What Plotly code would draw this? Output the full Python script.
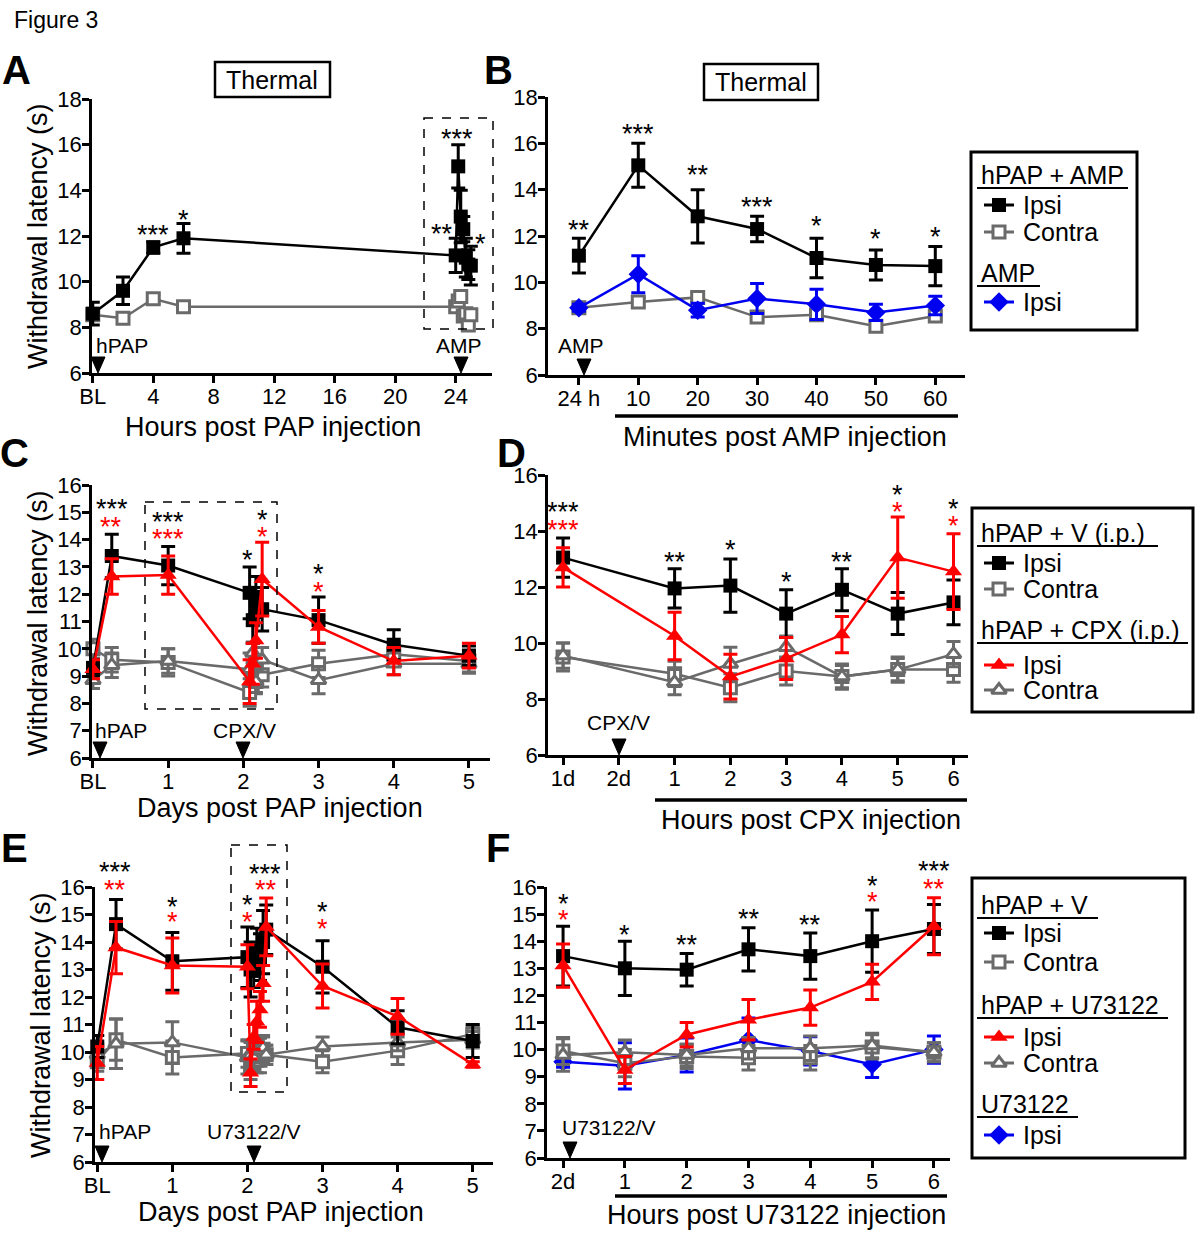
import plotly.graph_objects as go

W, H = 1200, 1233
FONT = "Liberation Sans, Arial, Helvetica, sans-serif"
BLACK, GRAY, RED, BLUE = "#000000", "#6a6a6a", "#ff0000", "#0000f0"

# ---------------- Panel A: hours post PAP ----------------
A_hours = [0, 2, 4, 6]
A_tickvals = [0, 4, 8, 12, 16, 20, 24]
A_ticktext = ["BL", "4", "8", "12", "16", "20", "24"]
A_ipsi = [8.6, 9.6, 11.5, 11.9]
A_ipsi_err = [0.5, 0.6, 0.25, 0.65]
A_contra = [8.55, 8.4, 9.25, 8.9]
A_contra_err = [0.15, 0.15, 0.2, 0.15]

# ---------------- Panel B: minutes post AMP (also the 24 h cluster of A) ----------------
B_labels = ["24 h", "10", "20", "30", "40", "50", "60"]
B_minutes = [0, 10, 20, 30, 40, 50, 60]
B_ipsi = [11.15, 15.05, 12.85, 12.3, 11.05, 10.75, 10.7]
B_ipsi_err = [0.75, 0.95, 1.15, 0.55, 0.85, 0.65, 0.85]
B_contra = [8.9, 9.15, 9.35, 8.5, 8.6, 8.1, 8.55]
B_contra_err = [0.2, 0.2, 0.2, 0.2, 0.2, 0.2, 0.2]
B_amp = [8.9, 10.35, 8.8, 9.3, 9.05, 8.7, 9.0]
B_amp_err = [0.15, 0.8, 0.3, 0.65, 0.65, 0.35, 0.4]

# ---------------- Panel D: hours post CPX ----------------
D_labels = ["1d", "2d", "1", "2", "3", "4", "5", "6"]
D_time = ["1d", "1", "2", "3", "4", "5", "6"]
D_v_ipsi = [13.05, 11.95, 12.05, 11.05, 11.9, 11.05, 11.45]
D_v_ipsi_err = [0.7, 0.7, 0.95, 0.85, 0.75, 0.75, 0.8]
D_cpx_ipsi = [12.7, 10.25, 8.8, 9.45, 10.3, 13.05, 12.55]
D_cpx_ipsi_err = [0.7, 0.85, 0.8, 0.75, 0.65, 1.45, 1.35]
D_v_contra = [9.5, 8.9, 8.4, 9.0, 8.8, 9.05, 9.05]
D_v_contra_err = [0.5, 0.45, 0.5, 0.5, 0.45, 0.45, 0.45]
D_cpx_contra = [9.55, 8.6, 9.25, 9.85, 8.8, 9.05, 9.6]
D_cpx_contra_err = [0.45, 0.45, 0.6, 0.4, 0.4, 0.4, 0.45]

# ---------------- Panel C: days post PAP ----------------
C_tickvals = [0, 1, 2, 3, 4, 5]
C_ticktext = ["BL", "1", "2", "3", "4", "5"]
C_days_pre = [0, 0.25]
C_days_post = [3, 4, 5]
C_cluster_hours = ["2", "3", "4", "6"]   # hours after CPX/V on day 2 (from panel D)
C_v_ipsi_pre = [9.3, 13.4]
C_v_ipsi_pre_err = [0.3, 0.8]
C_v_ipsi_post = [11.05, 10.15, 9.75]
C_v_ipsi_post_err = [0.85, 0.55, 0.35]
C_cpx_ipsi_pre = [9.25, 12.65]
C_cpx_ipsi_pre_err = [0.35, 0.65]
C_cpx_ipsi_post = [10.8, 9.55, 9.75]
C_cpx_ipsi_post_err = [0.6, 0.5, 0.45]
C_v_contra_pre = [10.0, 9.6]
C_v_contra_pre_err = [0.35, 0.45]
C_v_contra_post = [9.45, 9.8, 9.55]
C_v_contra_post_err = [0.5, 0.45, 0.4]
C_cpx_contra_pre = [8.85, 9.4]
C_cpx_contra_pre_err = [0.3, 0.45]
C_cpx_contra_post = [8.85, 9.45, 9.45]
C_cpx_contra_post_err = [0.5, 0.4, 0.35]

# ---------------- Panel F: hours post U73122 ----------------
F_labels = ["2d", "1", "2", "3", "4", "5", "6"]
F_hours = [0, 1, 2, 3, 4, 5, 6]
F_v_ipsi = [13.45, 13.0, 12.95, 13.7, 13.45, 14.0, 14.45]
F_v_ipsi_err = [1.1, 1.0, 0.6, 0.8, 0.85, 1.15, 0.9]
F_u_ipsi = [13.1, 9.25, 10.55, 11.1, 11.55, 12.5, 14.55]
F_u_ipsi_err = [0.8, 0.5, 0.45, 0.75, 0.65, 0.65, 1.05]
F_v_contra = [9.95, 9.5, 9.75, 9.7, 9.7, 10.1, 9.9]
F_v_contra_err = [0.5, 0.5, 0.45, 0.45, 0.45, 0.45, 0.35]
F_u_contra = [9.8, 9.9, 9.8, 10.05, 10.05, 10.15, 9.9]
F_u_contra_err = [0.6, 0.45, 0.4, 0.4, 0.45, 0.45, 0.35]
F_u_only = [9.55, 9.4, 9.8, 10.35, 9.95, 9.45, 10.0]
F_u_only_err = [0.2, 0.85, 0.63, 0.82, 0.52, 0.48, 0.5]

# ---------------- Panel E: days post PAP ----------------
E_days_pre = [0, 0.25, 1]
E_days_post = [3, 4, 5]
E_v_ipsi_pre = [10.2, 14.65, 13.3]
E_v_ipsi_pre_err = [0.4, 0.9, 1.05]
E_v_ipsi_post = [13.1, 10.9, 10.4]
E_v_ipsi_post_err = [0.95, 0.6, 0.6]
E_u_ipsi_pre = [9.6, 13.8, 13.15]
E_u_ipsi_pre_err = [0.6, 0.95, 1.0]
E_u_ipsi_post = [12.4, 11.3, 9.55]
E_u_ipsi_post_err = [0.8, 0.65, 0.1]
E_v_contra_pre = [9.65, 10.45, 9.8]
E_v_contra_pre_err = [0.35, 0.75, 0.6]
E_v_contra_post = [9.65, 10.05, 10.65]
E_v_contra_post_err = [0.4, 0.5, 0.3]
E_u_contra_pre = [9.9, 10.3, 10.35]
E_u_contra_pre_err = [0.4, 0.9, 0.75]
E_u_contra_post = [10.2, 10.35, 10.45]
E_u_contra_post_err = [0.35, 0.3, 0.3]

# significance stars: (x, y, text, colour)
A_stars = [(4, 12.35, "***", BLACK), (6, 13.0, "*", BLACK), (24.07, 16.55, "***", BLACK),
           (23.07, 12.4, "**", BLACK), (25.66, 11.95, "*", BLACK)]
B_stars = [(0, 12.56, "**", BLACK), (1, 16.7, "***", BLACK), (2, 14.93, "**", BLACK),
           (3, 13.55, "***", BLACK), (4, 12.73, "*", BLACK), (5, 12.18, "*", BLACK), (6, 12.26, "*", BLACK)]
C_stars = [(0.25, 15.38, "***", BLACK), (0.24, 14.72, "**", RED), (1, 14.9, "***", BLACK),
           (1, 14.28, "***", RED), (2.05, 13.5, "*", BLACK), (2.26, 14.97, "*", BLACK),
           (2.26, 14.35, "*", RED), (3, 13.0, "*", BLACK), (3, 12.34, "*", RED)]
D_stars = [(0, 14.93, "***", BLACK), (0, 14.29, "***", RED), (2, 13.14, "**", BLACK),
           (3, 13.57, "*", BLACK), (4, 12.43, "*", BLACK), (5, 13.14, "**", BLACK),
           (6, 15.53, "*", BLACK), (6, 14.93, "*", RED), (7, 15.04, "*", BLACK), (7, 14.43, "*", RED)]
E_stars = [(0.24, 16.8, "***", BLACK), (0.24, 16.15, "**", RED), (1, 15.53, "*", BLACK),
           (1, 14.98, "*", RED), (2.0, 15.6, "*", BLACK), (2.0, 15.0, "*", RED),
           (2.23, 16.73, "***", BLACK), (2.25, 16.15, "**", RED), (3, 15.35, "*", BLACK), (3, 14.73, "*", RED)]
F_stars = [(0, 15.63, "*", BLACK), (0, 15.04, "*", RED), (1, 14.49, "*", BLACK), (2, 14.12, "**", BLACK),
           (3, 15.08, "**", BLACK), (4, 14.86, "**", BLACK), (5, 16.3, "*", BLACK), (5, 15.7, "*", RED),
           (6, 16.85, "***", BLACK), (6, 16.18, "**", RED)]

STYLE = {
    "sq": dict(color=BLACK, symbol="square", fill=BLACK, size=14),
    "sq_open": dict(color=GRAY, symbol="square", fill="white", size=12),
    "tri": dict(color=RED, symbol="triangle-up", fill=RED, size=15),
    "tri_open": dict(color=GRAY, symbol="triangle-up", fill="white", size=13),
    "dia": dict(color=BLUE, symbol="diamond", fill=BLUE, size=15),
}

fig = go.Figure()


def add_series(x, y, err, style, ax):
    s = STYLE[style]
    open_ = s["fill"] == "white"
    fig.add_trace(go.Scatter(
        x=x, y=y, mode="lines+markers", xaxis="x" + ax, yaxis="y" + ax,
        line=dict(color=s["color"], width=2.5),
        marker=dict(symbol=s["symbol"], size=s["size"], color=s["fill"],
                    line=dict(color=s["color"], width=3 if open_ else 0)),
        error_y=dict(type="data", array=err, visible=True, color=s["color"], thickness=3, width=7),
        cliponaxis=False, showlegend=False, hoverinfo="skip"))


# ---- Panel A ----
A_clx = A_hours + [24 + m / 60 for m in B_minutes]
add_series(A_clx, A_contra + B_contra, A_contra_err + B_contra_err, "sq_open", "")
add_series(A_clx, A_ipsi + B_ipsi, A_ipsi_err + B_ipsi_err, "sq", "")

# ---- Panel B ----
Bx = list(range(len(B_labels)))
add_series(Bx, B_contra, B_contra_err, "sq_open", "2")
add_series(Bx, B_amp, B_amp_err, "dia", "2")
add_series(Bx, B_ipsi, B_ipsi_err, "sq", "2")

# ---- Panel C (day-2 cluster taken from panel D hours) ----
idx1d = D_time.index("1d")
cl_idx = [D_time.index(h) for h in C_cluster_hours]
Cx = C_days_pre + [1] + [2 + int(h) / 24 for h in C_cluster_hours] + C_days_post


def c_build(pre, pre_e, d, d_e, post, post_e):
    y = pre + [d[idx1d]] + [d[i] for i in cl_idx] + post
    e = pre_e + [d_e[idx1d]] + [d_e[i] for i in cl_idx] + post_e
    return y, e


y, e = c_build(C_v_contra_pre, C_v_contra_pre_err, D_v_contra, D_v_contra_err, C_v_contra_post, C_v_contra_post_err)
add_series(Cx, y, e, "sq_open", "3")
y, e = c_build(C_cpx_contra_pre, C_cpx_contra_pre_err, D_cpx_contra, D_cpx_contra_err, C_cpx_contra_post, C_cpx_contra_post_err)
add_series(Cx, y, e, "tri_open", "3")
y, e = c_build(C_v_ipsi_pre, C_v_ipsi_pre_err, D_v_ipsi, D_v_ipsi_err, C_v_ipsi_post, C_v_ipsi_post_err)
add_series(Cx, y, e, "sq", "3")
y, e = c_build(C_cpx_ipsi_pre, C_cpx_ipsi_pre_err, D_cpx_ipsi, D_cpx_ipsi_err, C_cpx_ipsi_post, C_cpx_ipsi_post_err)
add_series(Cx, y, e, "tri", "3")

# ---- Panel D ----
Dx = [D_labels.index(t) for t in D_time]
add_series(Dx, D_v_contra, D_v_contra_err, "sq_open", "4")
add_series(Dx, D_cpx_contra, D_cpx_contra_err, "tri_open", "4")
add_series(Dx, D_v_ipsi, D_v_ipsi_err, "sq", "4")
add_series(Dx, D_cpx_ipsi, D_cpx_ipsi_err, "tri", "4")

# ---- Panel E (day-2 cluster taken from panel F) ----
Ex = E_days_pre + [2 + h / 24 for h in F_hours] + E_days_post
add_series(Ex, E_v_contra_pre + F_v_contra + E_v_contra_post,
           E_v_contra_pre_err + F_v_contra_err + E_v_contra_post_err, "sq_open", "5")
add_series(Ex, E_u_contra_pre + F_u_contra + E_u_contra_post,
           E_u_contra_pre_err + F_u_contra_err + E_u_contra_post_err, "tri_open", "5")
add_series(Ex, E_v_ipsi_pre + F_v_ipsi + E_v_ipsi_post,
           E_v_ipsi_pre_err + F_v_ipsi_err + E_v_ipsi_post_err, "sq", "5")
add_series(Ex, E_u_ipsi_pre + F_u_ipsi + E_u_ipsi_post,
           E_u_ipsi_pre_err + F_u_ipsi_err + E_u_ipsi_post_err, "tri", "5")

# ---- Panel F ----
Fx = list(range(len(F_labels)))
add_series(Fx, F_u_only, F_u_only_err, "dia", "6")
add_series(Fx, F_v_contra, F_v_contra_err, "sq_open", "6")
add_series(Fx, F_u_contra, F_u_contra_err, "tri_open", "6")
add_series(Fx, F_v_ipsi, F_v_ipsi_err, "sq", "6")
add_series(Fx, F_u_ipsi, F_u_ipsi_err, "tri", "6")


# ---------------- axes ----------------
def xd(a, b):
    return [a / W, b / W]


def yd(top, bottom):
    return [1 - bottom / H, 1 - top / H]


def ax_common(is_x):
    return dict(showline=True, linecolor=BLACK, linewidth=2.5, ticks="outside", ticklen=7,
                tickwidth=2.5, tickcolor=BLACK, showgrid=False, zeroline=False, fixedrange=True,
                ticklabelstandoff=-5 if is_x else -4,
                tickfont=dict(family=FONT, size=22, color=BLACK))


layout = dict(width=W, height=H, autosize=False,
              margin=dict(l=0, r=0, t=0, b=0, pad=0, autoexpand=False),
              paper_bgcolor="white", plot_bgcolor="rgba(0,0,0,0)", showlegend=False,
              font=dict(family=FONT, color=BLACK))

YR = {"": [6, 18], "2": [6, 18], "3": [6, 16], "4": [6, 16], "5": [6, 16], "6": [6, 16]}

layout["xaxis"] = dict(ax_common(True), domain=xd(92, 492), range=[-0.05, 26.4], anchor="y",
                       tickvals=A_tickvals, ticktext=A_ticktext)
layout["yaxis"] = dict(ax_common(False), domain=yd(99, 373), range=YR[""], anchor="x",
                       tickvals=[6, 8, 10, 12, 14, 16, 18])
layout["xaxis2"] = dict(ax_common(True), domain=xd(548, 965), range=[-0.52, 6.5], anchor="y2",
                        tickvals=Bx, ticktext=B_labels)
layout["yaxis2"] = dict(ax_common(False), domain=yd(97, 375), range=YR["2"], anchor="x2",
                        tickvals=[6, 8, 10, 12, 14, 16, 18])
layout["xaxis3"] = dict(ax_common(True), domain=xd(92, 490), range=[-0.013, 5.28], anchor="y3",
                        tickvals=C_tickvals, ticktext=C_ticktext)
layout["yaxis3"] = dict(ax_common(False), domain=yd(485, 758), range=YR["3"], anchor="x3",
                        tickvals=list(range(6, 17)))
layout["xaxis4"] = dict(ax_common(True), domain=xd(548, 968), range=[-0.27, 7.26], anchor="y4",
                        tickvals=list(range(len(D_labels))), ticktext=D_labels)
layout["yaxis4"] = dict(ax_common(False), domain=yd(475, 755), range=YR["4"], anchor="x4",
                        tickvals=[6, 8, 10, 12, 14, 16])
layout["xaxis5"] = dict(ax_common(True), domain=xd(95, 493), range=[-0.03, 5.27], anchor="y5",
                        tickvals=C_tickvals, ticktext=C_ticktext)
layout["yaxis5"] = dict(ax_common(False), domain=yd(887, 1162), range=YR["5"], anchor="x5",
                        tickvals=list(range(6, 17)))
layout["xaxis6"] = dict(ax_common(True), domain=xd(547, 950), range=[-0.26, 6.26], anchor="y6",
                        tickvals=Fx, ticktext=F_labels)
layout["yaxis6"] = dict(ax_common(False), domain=yd(887, 1158), range=YR["6"], anchor="x6",
                        tickvals=list(range(6, 17)))
# full-page pixel overlay for decorations / legend samples
layout["xaxis7"] = dict(domain=[0, 1], range=[0, W], visible=False, fixedrange=True, anchor="y7")
layout["yaxis7"] = dict(domain=[0, 1], range=[H, 0], visible=False, fixedrange=True, anchor="x7")

annotations = []
shapes = []

# stars (y given in data units, placed via the axis domain so that values above the range still show)
for stars, ax in [(A_stars, ""), (B_stars, "2"), (C_stars, "3"), (D_stars, "4"), (E_stars, "5"), (F_stars, "6")]:
    lo, hi = YR[ax]
    for (sx, sy, txt_, col) in stars:
        annotations.append(dict(x=sx, y=(sy - lo) / (hi - lo), xref="x" + ax, yref="y" + ax + " domain",
                                text=txt_, showarrow=False, xanchor="center", yanchor="middle", yshift=-7,
                                font=dict(family=FONT, size=27, color=col)))


def txt(x, y, t, size, xanchor="center", angle=0, bold=False):
    annotations.append(dict(x=x, y=y, xref="x7", yref="y7", text=("<b>%s</b>" % t) if bold else t,
                            showarrow=False, xanchor=xanchor, yanchor="middle", textangle=angle,
                            font=dict(family=FONT, size=size, color=BLACK)))


def rect(x0, y0, x1, y1, width=2.5, dash="solid"):
    shapes.append(dict(type="rect", xref="x7", yref="y7", x0=x0, y0=y0, x1=x1, y1=y1,
                       line=dict(color=BLACK, width=width, dash=dash), fillcolor="rgba(0,0,0,0)"))


def hline(x0, x1, y, width=2):
    shapes.append(dict(type="line", xref="x7", yref="y7", x0=x0, x1=x1, y0=y, y1=y,
                       line=dict(color=BLACK, width=width)))


def tri(x, tip, w=14, h=16):
    shapes.append(dict(type="path", xref="x7", yref="y7",
                       path="M %s,%s L %s,%s L %s,%s Z" % (x - w / 2, tip - h, x + w / 2, tip - h, x, tip),
                       fillcolor=BLACK, line=dict(color=BLACK, width=1)))


txt(12, 20, "Figure 3", 23, xanchor="left")
for L, x, y in [("A", 16, 70), ("B", 498, 70), ("C", 14, 453), ("D", 511, 453), ("E", 14, 848), ("F", 498, 848)]:
    txt(x, y, L, 40, bold=True)

rect(215, 62, 330, 97)
txt(272, 80, "Thermal", 25)
rect(704, 64, 818, 100)
txt(761, 82, "Thermal", 25)

txt(273, 427, "Hours post PAP injection", 27)
txt(785, 437, "Minutes post AMP injection", 27)
txt(280, 808, "Days post PAP injection", 27)
txt(811, 820, "Hours post CPX injection", 27)
txt(281, 1212, "Days post PAP injection", 27)
txt(776, 1215, "Hours post U73122 injection", 27)
txt(38, 236, "Withdrawal latency (s)", 27, angle=-90)
txt(38, 623, "Withdrawal latency (s)", 27, angle=-90)
txt(41, 1025, "Withdrawal latency (s)", 27, angle=-90)
hline(615, 958, 416, 3.5)
hline(655, 967, 800, 3.5)
hline(615, 947, 1196, 3.5)

for t, x, y in [("hPAP", 122, 345), ("AMP", 459, 345), ("AMP", 581, 345), ("hPAP", 121, 730),
                ("CPX/V", 244, 730), ("CPX/V", 618, 722), ("hPAP", 125, 1131), ("U73122/V", 253, 1131),
                ("U73122/V", 608, 1127)]:
    txt(x, y, t, 21)
for x, tip in [(98, 373), (461, 373), (584, 375), (100, 758), (243, 758), (619, 755), (102, 1162),
               (254, 1162), (570, 1158)]:
    tri(x, tip)

rect(424, 118, 493, 329, width=1.5, dash="dash")
rect(145, 502, 277, 709, width=1.5, dash="dash")
rect(231, 845, 287, 1092, width=1.5, dash="dash")

# ---------------- legends ----------------
rect(971, 152, 1137, 330, width=3)
rect(972, 508, 1193, 712, width=3)
rect(972, 878, 1185, 1158, width=3)


def header(text, y, x1):
    txt(979, y, text, 25, xanchor="left")
    hline(977, x1, y + 13, 2)


def item(style, y, text):
    s = STYLE[style]
    open_ = s["fill"] == "white"
    fig.add_trace(go.Scatter(x=[984, 1014], y=[y, y], mode="lines", xaxis="x7", yaxis="y7",
                             line=dict(color=s["color"], width=3), showlegend=False, hoverinfo="skip"))
    fig.add_trace(go.Scatter(x=[999], y=[y], mode="markers", xaxis="x7", yaxis="y7",
                             marker=dict(symbol=s["symbol"], size=s["size"], color=s["fill"],
                                         line=dict(color=s["color"], width=3 if open_ else 0)),
                             showlegend=False, hoverinfo="skip"))
    txt(1021, y, text, 25, xanchor="left")


header("hPAP + AMP", 175, 1128)
item("sq", 205, "Ipsi")
item("sq_open", 232, "Contra")
header("AMP", 273, 1040)
item("dia", 302, "Ipsi")

header("hPAP + V (i.p.)", 533, 1158)
item("sq", 563, "Ipsi")
item("sq_open", 589, "Contra")
header("hPAP + CPX (i.p.)", 630, 1188)
item("tri", 665, "Ipsi")
item("tri_open", 690, "Contra")

header("hPAP + V", 905, 1098)
item("sq", 933, "Ipsi")
item("sq_open", 962, "Contra")
header("hPAP + U73122", 1005, 1168)
item("tri", 1037, "Ipsi")
item("tri_open", 1063, "Contra")
header("U73122", 1104, 1078)
item("dia", 1135, "Ipsi")

layout["annotations"] = annotations
layout["shapes"] = shapes
fig.update_layout(**layout)
fig.write_html("out.html", config={"displayModeBar": False},
               post_script="document.body.style.margin='0';document.body.style.overflow='hidden';")
